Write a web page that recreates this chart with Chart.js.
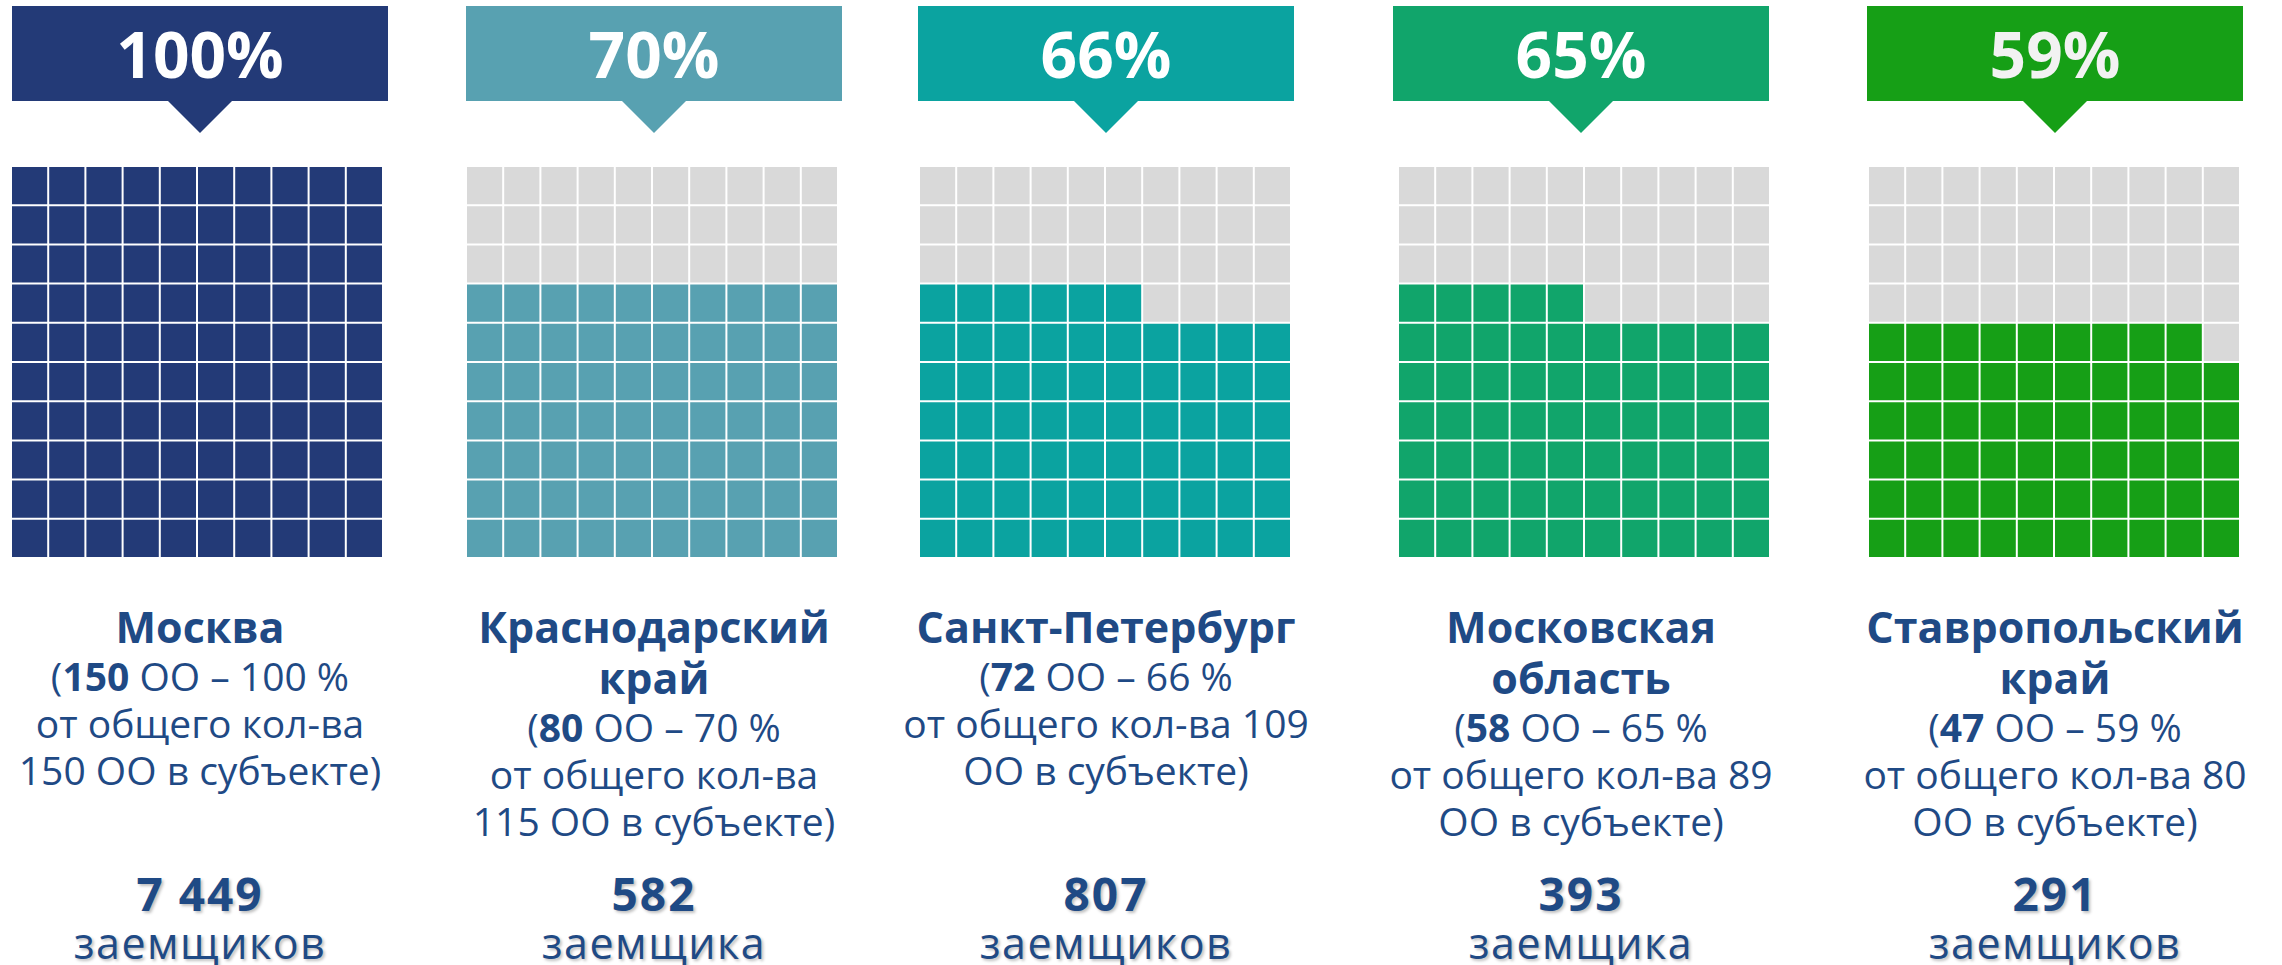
<!DOCTYPE html>
<html lang="ru">
<head>
<meta charset="UTF-8">
<title>Доля ОО по субъектам</title>
<script src="https://cdn.jsdelivr.net/npm/chart.js"></script>
<style>
  html, body { margin: 0; padding: 0; background: #fff; }
  body { width: 2282px; height: 965px; position: relative; overflow: hidden;
         font-family: "Open Sans", sans-serif; color: #1F4A85; }
  .banner { position: absolute; top: 6px; width: 376px; height: 95px;
            font-weight: 700; font-size: 64px; line-height: 95px; text-align: center; }
  .banner::after { content: ""; position: absolute; left: 50%; top: 95px; margin-left: -32px;
            border-left: 32px solid transparent; border-right: 32px solid transparent;
            border-top: 32px solid var(--c); }
  .grid { position: absolute; top: 166px; width: 372px; height: 392px; }
  .info { position: absolute; top: 601px; width: 480px; text-align: center; white-space: nowrap; }
  .info .name { font-weight: 700; font-size: 43px; line-height: 51px; }
  .info .desc { font-size: 39px; line-height: 47px; }
  .total { position: absolute; top: 868px; width: 480px; text-align: center; white-space: nowrap;
           text-shadow: 2px 2px 3px rgba(0,0,0,0.25); }
  .total .num { font-weight: 700; font-size: 46px; line-height: 50px; letter-spacing: 2px; }
  .total .word { font-size: 43px; line-height: 50px; letter-spacing: 1.5px; }
</style>
</head>
<body>
<script>
  // Данные по субъектам
  const regions = ['Москва', 'Краснодарский\nкрай', 'Санкт-Петербург', 'Московская\nобласть', 'Ставропольский\nкрай'];
  const sharePct = [100, 70, 66, 65, 59];
  const orgCount = [150, 80, 72, 58, 47];
  const orgTotal = [150, 115, 109, 89, 80];
  const borrowers = ['7 449', '582', '807', '393', '291'];
  const borrowerWord = ['заемщиков', 'заемщика', 'заемщиков', 'заемщика', 'заемщиков'];

  // Оформление
  const colors = ['#233A77', '#58A1B1', '#0BA3A0', '#11A56B', '#169F16'];
  const bannerText = ['#FFFFFF', '#FFFFFF', '#FFFFFF', '#FFFFFF', '#F2F2F2'];
  const emptyColor = '#D9D9D9';
  const bannerLeft = [12, 466, 918, 1393, 1867];
  const gridLeft = [12, 467, 920, 1399, 1869];
  const totalOnSecondLine = [false, false, true, true, true];

  const cols = [0, 1, 2, 3, 4, 5, 6, 7, 8, 9];

  regions.forEach((name, i) => {
    const center = bannerLeft[i] + 188;

    // Плашка с процентом
    const banner = document.createElement('div');
    banner.className = 'banner';
    banner.style.left = bannerLeft[i] + 'px';
    banner.style.background = colors[i];
    banner.style.color = bannerText[i];
    banner.style.setProperty('--c', colors[i]);
    banner.textContent = sharePct[i] + '%';
    document.body.appendChild(banner);

    // Подпись субъекта
    const info = document.createElement('div');
    info.className = 'info';
    info.style.left = (center - 240) + 'px';
    const tail = totalOnSecondLine[i]
      ? `от общего кол-ва ${orgTotal[i]}<br>ОО в субъекте)`
      : `от общего кол-ва<br>${orgTotal[i]} ОО в субъекте)`;
    info.innerHTML = `<div class="name">${name.replace('\n', '<br>')}</div>
      <div class="desc">(<b>${orgCount[i]}</b> ОО – ${sharePct[i]} %<br>${tail}</div>`;
    document.body.appendChild(info);

    // Количество заемщиков
    const total = document.createElement('div');
    total.className = 'total';
    total.style.left = (center - 240) + 'px';
    total.innerHTML = `<div class="num">${borrowers[i]}</div><div class="word">${borrowerWord[i]}</div>`;
    document.body.appendChild(total);

    // Сетка 10x10: каждая строка — отдельный набор, заполнение снизу слева направо
    const wrap = document.createElement('div');
    wrap.className = 'grid';
    wrap.style.left = (gridLeft[i] - 1) + 'px';
    const canvas = document.createElement('canvas');
    wrap.appendChild(canvas);
    document.body.appendChild(wrap);

    const datasets = cols.map(row => ({
      data: cols.map(() => 1),
      backgroundColor: cols.map(c => (row * 10 + c < sharePct[i] ? colors[i] : emptyColor)),
      borderColor: '#FFFFFF',
      borderWidth: 1,
      borderSkipped: false,
      inflateAmount: 0,
      barPercentage: 1,
      categoryPercentage: 1
    }));

    new Chart(canvas, {
      type: 'bar',
      data: { labels: cols, datasets: datasets },
      options: {
        responsive: true,
        maintainAspectRatio: false,
        animation: false,
        events: [],
        layout: { padding: 0 },
        plugins: { legend: { display: false }, tooltip: { enabled: false } },
        scales: {
          x: { stacked: true, display: false },
          y: { stacked: true, display: false, min: 0, max: 10 }
        }
      }
    });
  });
</script>
</body>
</html>
